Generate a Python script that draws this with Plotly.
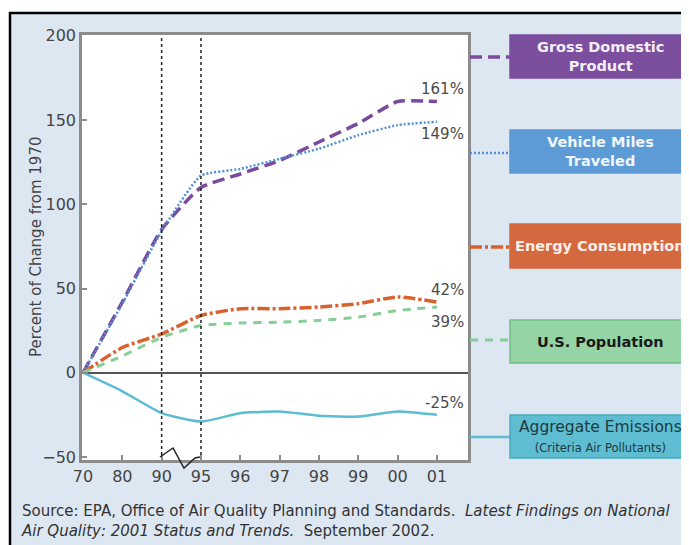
import plotly.graph_objects as go

# ---------------- data ----------------
years = ["70", "80", "90", "95", "96", "97", "98", "99", "00", "01"]
gdp = [0, 42, 85, 110, 118, 126, 137, 148, 161, 161]
vmt = [0, 41, 84, 117, 121, 127, 133, 141, 147, 149]
energy = [0, 15, 23, 34, 38, 38, 39, 41, 45, 42]
population = [0, 10, 21, 28, 29.5, 30, 31, 33, 37, 39]
emissions = [0, -11, -24, -29, -24, -23, -25.5, -26, -23, -25]

y_ticks = [-50, 0, 50, 100, 150, 200]
break_years = ["90", "95"]

series_names = ["Gross Domestic Product", "Vehicle Miles Traveled", "Energy Consumption",
                "U.S. Population", "Aggregate Emissions"]

# ---------------- layout helpers (screen pixel coords) ----------------
SW, SH = 689, 545          # window size
OFF = 8                    # page body margin
W, H = SW, SH              # figure size (overflow is cropped by the window)
L, R, T, B = 82, 468, 35, 460   # plot area in screen coords
FONT = "DejaVu Sans"


def px(x):
    return (x - L) / (R - L)


def py(y):
    return (B - y) / (B - T)


xi = list(range(len(years)))

styles = [
    dict(color="#7a4a9f", dash="12px,6px", width=3.5),
    dict(color="#4f8fd6", dash="2px,2px", width=2.5),
    dict(color="#d8622f", dash="12px,3px,3px,3px", width=3.5),
    dict(color="#86cd96", dash="8px,7px", width=3),
    dict(color="#5bbcd4", dash="solid", width=2.5),
]
data = [gdp, vmt, energy, population, emissions]

fig = go.Figure()
for name, vals, st in zip(series_names, data, styles):
    fig.add_trace(go.Scatter(
        x=xi, y=vals, mode="lines", name=name,
        line=dict(color=st["color"], dash=st["dash"], width=st["width"],
                  shape="spline", smoothing=0.5),
        showlegend=False, hoverinfo="skip"))

shapes = []
annotations = []

# outer frame: white outside, black border top/left
shapes.append(dict(type="rect", xref="paper", yref="paper", x0=px(-5), x1=px(SW + 20),
                   y0=py(12), y1=py(-5), fillcolor="white", line=dict(width=0), layer="above"))
shapes.append(dict(type="rect", xref="paper", yref="paper", x0=px(-5), x1=px(9),
                   y0=py(SH + 20), y1=py(12), fillcolor="white", line=dict(width=0), layer="above"))
shapes.append(dict(type="line", xref="paper", yref="paper", x0=px(9), x1=px(SW + 20),
                   y0=py(13), y1=py(13), line=dict(color="black", width=2.5), layer="above"))
shapes.append(dict(type="line", xref="paper", yref="paper", x0=px(10), x1=px(10),
                   y0=py(12), y1=py(SH + 20), line=dict(color="black", width=2.5), layer="above"))

# vertical dotted lines at break years
for by in break_years:
    k = years.index(by)
    shapes.append(dict(type="line", xref="x", yref="paper", x0=k, x1=k, y0=py(455), y1=1,
                       line=dict(color="#222222", width=1.5, dash="dot"), layer="above"))

# zigzag break symbol
zig = [(160, 457), (173, 448), (184, 468), (195, 458), (200, 457)]
path = "M " + " L ".join(f"{px(a)},{py(b)}" for a, b in zig)
shapes.append(dict(type="path", xref="paper", yref="paper", path=path,
                   line=dict(color="#222222", width=1.5), layer="above"))

# end-of-line percentage labels
shifts = [13, -12, 12, -15, 12]
for vals, sh in zip(data, shifts):
    annotations.append(dict(x=9.74, y=vals[-1], xref="x", yref="y", text=f"{round(vals[-1])}%",
                            showarrow=False, xanchor="right", yanchor="middle", yshift=sh,
                            font=dict(family=FONT, size=15, color="#4a4a4a")))

# legend boxes on the right
boxes = [
    dict(y0=35, y1=78, line_y=57, fill="#7b4f9e", border="#7b4f9e",
         text="<b>Gross Domestic<br>Product</b>", tcolor="#f4eef8", size=14.5),
    dict(y0=130, y1=173, line_y=153, fill="#5d9bd6", border="#5d9bd6",
         text="<b>Vehicle Miles<br>Traveled</b>", tcolor="#f0f6fc", size=14.5),
    dict(y0=224, y1=268, line_y=247, fill="#d4683f", border="#d4683f",
         text="<b>Energy Consumption</b>", tcolor="#fbefe9", size=14.5),
    dict(y0=320, y1=363, line_y=340, fill="#95d4a4", border="#6fbf83",
         text="<b>U.S. Population</b>", tcolor="#1a1a1a", size=14.5),
    dict(y0=415, y1=458, line_y=437, fill="#5ebdd1", border="#4aa9bf",
         text="Aggregate Emissions<br><span style='font-size:11.5px'>(Criteria Air Pollutants)</span>",
         tcolor="#1d3a42", size=15.5),
]
for bx, st in zip(boxes, styles):
    shapes.append(dict(type="line", xref="paper", yref="paper", x0=px(R + 2), x1=px(510),
                       y0=py(bx["line_y"]), y1=py(bx["line_y"]),
                       line=dict(color=st["color"], dash=st["dash"], width=st["width"]),
                       layer="above"))
    shapes.append(dict(type="rect", xref="paper", yref="paper", x0=px(510), x1=px(SW + 20),
                       y0=py(bx["y1"]), y1=py(bx["y0"]), fillcolor=bx["fill"],
                       line=dict(color=bx["border"], width=1.5), layer="above"))
    annotations.append(dict(x=px(600), y=py((bx["y0"] + bx["y1"]) / 2), xref="paper", yref="paper",
                            text=bx["text"], showarrow=False, xanchor="center", yanchor="middle",
                            align="center",
                            font=dict(family=FONT, size=bx["size"], color=bx["tcolor"])))

# y-axis title
annotations.append(dict(x=px(25), y=py(247), xref="paper", yref="paper",
                        text="Percent of Change from 1970", textangle=-90, showarrow=False,
                        font=dict(family=FONT, size=15, color="#444444")))

# source note
annotations.append(dict(x=px(19), y=py(521), xref="paper", yref="paper", xanchor="left",
                        yanchor="middle", align="left", showarrow=False,
                        text="Source: EPA, Office of Air Quality Planning and Standards.  "
                             "<i>Latest Findings on National</i><br>"
                             "<i>Air Quality: 2001 Status and Trends.</i>  September 2002.",
                        font=dict(family=FONT, size=15, color="#333333")))

fig.update_layout(
    width=W, height=H,
    margin=dict(l=L - OFF, r=W + OFF - R, t=T - OFF, b=H + OFF - B, pad=0),
    paper_bgcolor="#dde7f2",
    plot_bgcolor="white",
    shapes=shapes,
    annotations=annotations,
    font=dict(family=FONT),
    xaxis=dict(range=[-0.025, 9.79], tickmode="array", tickvals=xi, ticktext=years,
               showgrid=False, zeroline=False, showline=True, linecolor="#8c8c8c", linewidth=2.5,
               mirror=True, ticks="inside", ticklen=5, tickcolor="#8c8c8c", tickwidth=1.5,
               tickfont=dict(family=FONT, size=16, color="#444444")),
    yaxis=dict(range=[-51.8, 200.5], tickmode="array", tickvals=y_ticks,
               showgrid=False, zeroline=True, zerolinecolor="#555555", zerolinewidth=1.5,
               showline=True, linecolor="#8c8c8c", linewidth=2.5, mirror=True,
               ticks="inside", ticklen=5, tickcolor="#8c8c8c", tickwidth=1.5,
               tickfont=dict(family=FONT, size=16, color="#444444")),
)

fig.write_html("out.html")
